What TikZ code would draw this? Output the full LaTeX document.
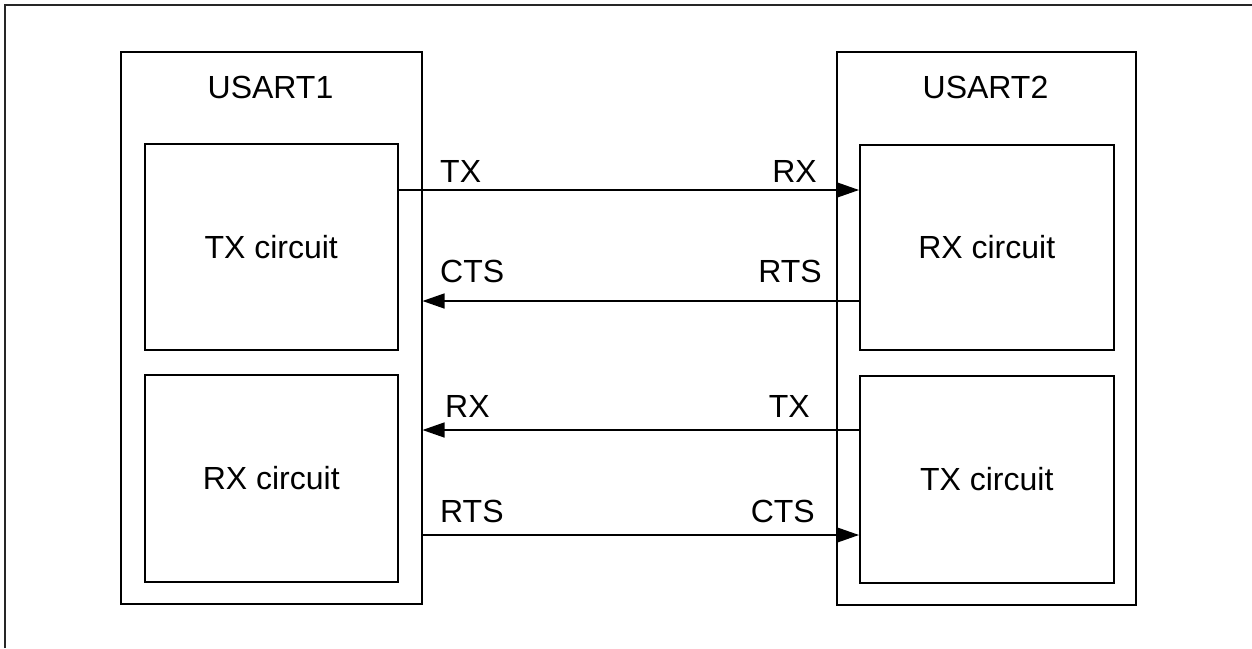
\documentclass[tikz,border=0pt]{standalone}
\usepackage{fontspec}
\setmainfont{Liberation Sans}
\usetikzlibrary{arrows.meta}
\begin{document}
\begin{tikzpicture}[x=1pt,y=-1pt,
  box/.style={draw=black,line width=1.5pt,rectangle,anchor=north west,inner sep=0pt},
  txt/.style={font=\fontsize{32}{36}\selectfont,inner sep=0pt},
  sig/.style={draw=black,line width=1.4pt,-{Triangle[length=22pt,width=15pt]}},
  frameline/.style={draw=black!85,line width=2.2pt}]
\useasboundingbox (0,0) rectangle (1252,648);
% partial outer frame
\coordinate (fb) at (5,648);
\coordinate (fc) at (5,5);
\coordinate (fr) at (1252,5);
\draw[frameline] (fb) -- (fc) -- (fr);
% USART blocks
\node[box,minimum width=301pt,minimum height=552pt] (U1) at (120,51) {};
\node[box,minimum width=299pt,minimum height=553pt] (U2) at (836,51) {};
\node[txt,anchor=base] (U1t) at (270.5,98) {USART1};
\node[txt,anchor=base] (U2t) at (985.5,98) {USART2};
% circuits
\node[box,minimum width=253pt,minimum height=206pt,txt] (TX1) at (144,143) {TX circuit};
\node[box,minimum width=253pt,minimum height=207pt,txt] (RX1) at (144,374) {RX circuit};
\node[box,minimum width=254pt,minimum height=205pt,txt] (RX2) at (859,144) {RX circuit};
\node[box,minimum width=254pt,minimum height=207pt,txt] (TX2) at (859,375) {TX circuit};
% row coordinates
\coordinate (r1) at (0,190);
\coordinate (r2) at (0,301);
\coordinate (r3) at (0,430);
\coordinate (r4) at (0,535);
% signals
\draw[sig] (TX1.east |- r1) -- (RX2.west |- r1);
\draw[sig] (RX2.west |- r2) -- (U1.east |- r2);
\draw[sig] (TX2.west |- r3) -- (U1.east |- r3);
\draw[sig] (U1.east |- r4) -- (TX2.west |- r4);
% labels
\node[txt,anchor=base west] (l1) at (440,182) {TX};
\node[txt,anchor=base east] (l2) at (817,182) {RX};
\node[txt,anchor=base west] (l3) at (440,282) {CTS};
\node[txt,anchor=base east] (l4) at (822,282) {RTS};
\node[txt,anchor=base west] (l5) at (445,417) {RX};
\node[txt,anchor=base east] (l6) at (810,417) {TX};
\node[txt,anchor=base west] (l7) at (440,522) {RTS};
\node[txt,anchor=base east] (l8) at (815,522) {CTS};
\end{tikzpicture}
\end{document}
